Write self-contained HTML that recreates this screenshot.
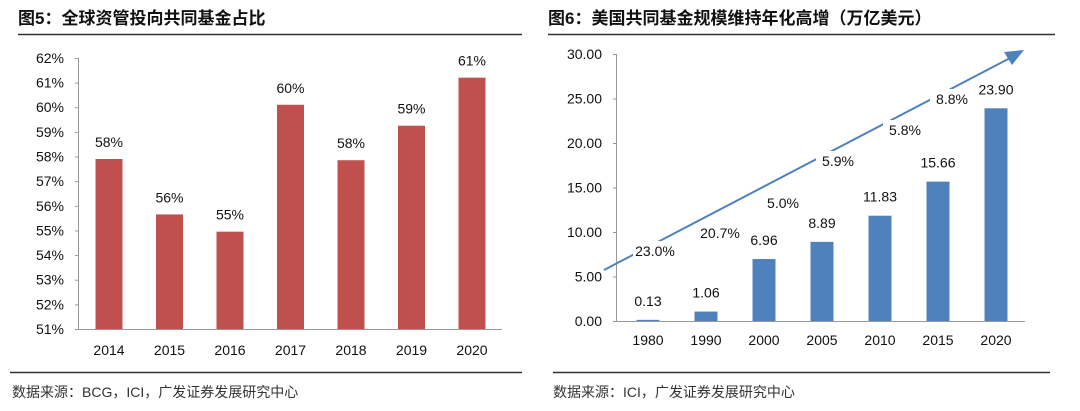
<!DOCTYPE html>
<html><head><meta charset="utf-8"><style>
body{margin:0;width:1080px;height:411px;background:#fff;overflow:hidden;font-family:"Liberation Sans","Noto Sans CJK SC",sans-serif}
svg{position:absolute;left:0;top:0}
</style></head><body>
<svg width="1080" height="411">
<g id="L"></g>
<g id="R"></g>
</svg>
<script>
const yearsL=["2014","2015","2016","2017","2018","2019","2020"];
const valsL=[57.9,55.65,54.95,60.1,57.85,59.25,61.2];
const labelsL=["58%","56%","55%","60%","58%","59%","61%"];
const ticksL=[51,52,53,54,55,56,57,58,59,60,61,62];
const yearsR=["1980","1990","2000","2005","2010","2015","2020"];
const valsR=[0.13,1.06,6.96,8.89,11.83,15.66,23.90];
const ticksR=[0,5,10,15,20,25,30];
const growth=["23.0%","20.7%","5.0%","5.9%","5.8%","8.8%"];
const NS="http://www.w3.org/2000/svg";
function mk(p,t,a,txt){const e=document.createElementNS(NS,t);for(const k in a)e.setAttribute(k,a[k]);if(txt!==undefined)e.textContent=txt;p.appendChild(e);return e;}
const svg=document.querySelector('svg');
let t=mk(svg,'text',{x:18,y:24,'font-size':17,'font-weight':'bold',fill:'#111'},'图5：全球资管投向共同基金占比');

t=mk(svg,'text',{x:548,y:24,'font-size':17,'font-weight':'bold',fill:'#111'},'图6：美国共同基金规模维持年化高增（万亿美元）');

mk(svg,'line',{x1:18,x2:522,y1:34.5,y2:34.5,stroke:'#333','stroke-width':1.5});
mk(svg,'line',{x1:548,x2:1055,y1:34.5,y2:34.5,stroke:'#333','stroke-width':1.5});
mk(svg,'line',{x1:10,x2:522,y1:372.5,y2:372.5,stroke:'#333','stroke-width':1.5});
mk(svg,'line',{x1:553,x2:1050,y1:372.5,y2:372.5,stroke:'#333','stroke-width':1.5});
t=mk(svg,'text',{x:12,y:397,'font-size':14,fill:'#333'},'数据来源：BCG，ICI，广发证券发展研究中心');

t=mk(svg,'text',{x:553,y:397,'font-size':14,fill:'#333'},'数据来源：ICI，广发证券发展研究中心');

const L=document.getElementById('L');
const yL=v=>329-(v-51)*24.64;
const xL=i=>109+i*60.5;
mk(L,'line',{x1:78.5,x2:78.5,y1:58,y2:329,stroke:'#999'});
mk(L,'line',{x1:78,x2:502,y1:329.5,y2:329.5,stroke:'#999'});
ticksL.forEach(v=>{mk(L,'line',{x1:75,x2:79,y1:yL(v)+.5,y2:yL(v)+.5,stroke:'#999'});
 const e=mk(L,'text',{x:64,y:yL(v)+5,'font-size':14,'text-anchor':'end',fill:'#111'},v+'%');
 });
valsL.forEach((v,i)=>{const b=mk(L,'rect',{x:xL(i)-13.5,y:yL(v),width:27,height:329-yL(v),fill:'#C0504D'});
 
 const l=mk(L,'text',{x:xL(i),y:yL(v)-12,'font-size':14,'text-anchor':'middle',fill:'#111'},labelsL[i]);
 
 const x=mk(L,'text',{x:xL(i),y:355,'font-size':14,'text-anchor':'middle',fill:'#111'},yearsL[i]);
 });
const R=document.getElementById('R');
const yR=v=>321-v*8.9;
const xR=i=>648+i*58;
mk(R,'line',{x1:616.5,x2:616.5,y1:54,y2:321,stroke:'#999'});
mk(R,'line',{x1:616,x2:1025,y1:321.5,y2:321.5,stroke:'#999'});
ticksR.forEach(v=>{mk(R,'line',{x1:613,x2:617,y1:yR(v)+.5,y2:yR(v)+.5,stroke:'#999'});
 const e=mk(R,'text',{x:602,y:yR(v)+5,'font-size':14,'text-anchor':'end',fill:'#111'},v.toFixed(2));
 });
valsR.forEach((v,i)=>{const b=mk(R,'rect',{x:xR(i)-11.5,y:yR(v),width:23,height:321-yR(v),fill:'#4F81BD'});
 
 const l=mk(R,'text',{x:xR(i),y:yR(v)-14,'font-size':14,'text-anchor':'middle',fill:'#111'},v.toFixed(2));
 
 const x=mk(R,'text',{x:xR(i),y:345,'font-size':14,'text-anchor':'middle',fill:'#111'},yearsR[i]);
 });
const ar=mk(R,'line',{x1:604,y1:270,x2:1012,y2:57,stroke:'#4F81BD','stroke-width':2});

mk(R,'polygon',{points:'1024,50 1004,52 1012,65',fill:'#4F81BD'});
const gpos=[[655,256],[720,238],[783,208],[838,166],[905,135],[952,104]];
growth.forEach((g,i)=>{const [x,y]=gpos[i];
 mk(R,'rect',{x:x-22,y:y-15,width:44,height:21,fill:'#fff'});
 const e=mk(R,'text',{x:x,y:y,'font-size':14,'text-anchor':'middle',fill:'#111'},g);
 });
</script>
</body></html>
